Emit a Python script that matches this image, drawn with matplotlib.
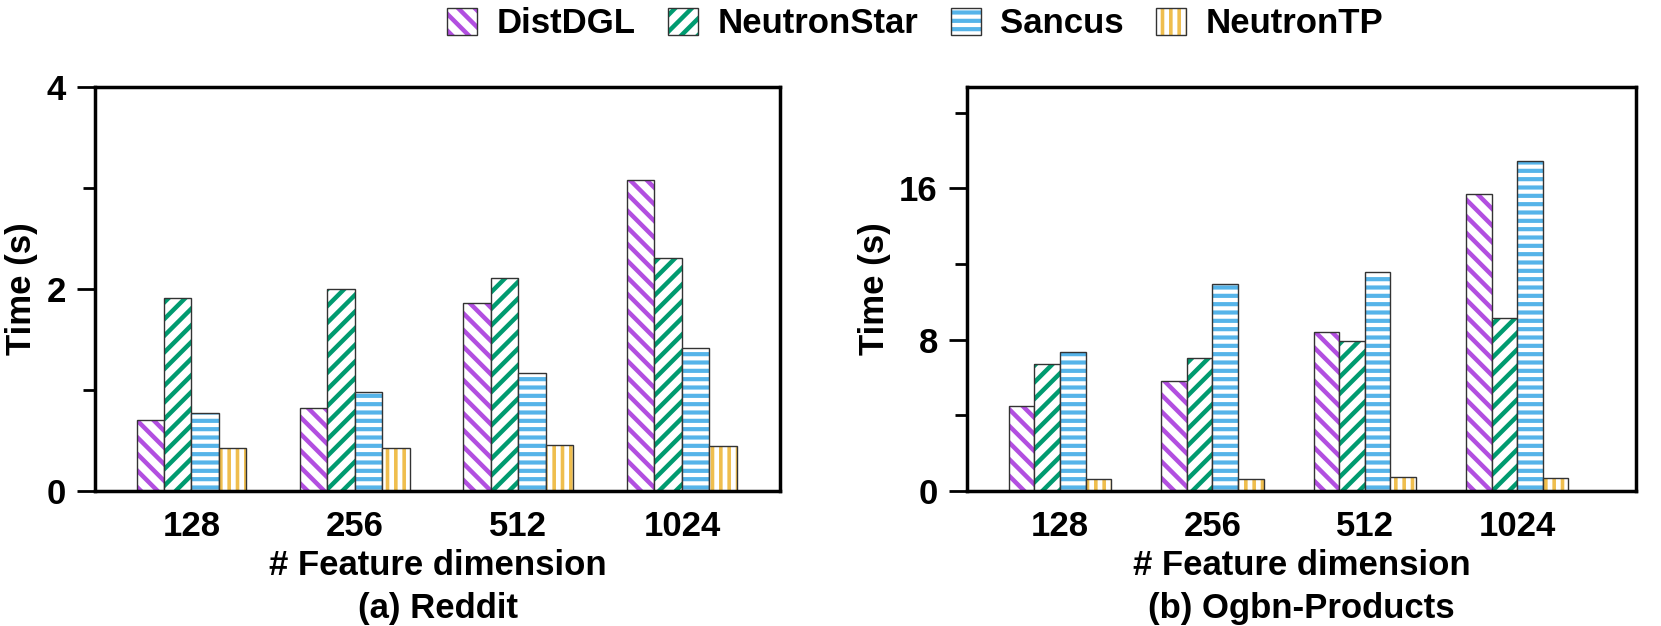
import matplotlib
matplotlib.use("Agg")
import matplotlib.pyplot as plt
import numpy as np
from matplotlib.patches import Patch
from matplotlib.ticker import MultipleLocator

plt.rcParams['font.family'] = ['Liberation Sans', 'DejaVu Sans']
plt.rcParams['font.weight'] = 'bold'
plt.rcParams['axes.labelweight'] = 'bold'
plt.rcParams['font.size'] = 25

dims = ["128", "256", "512", "1024"]
methods = ["DistDGL", "NeutronStar", "Sancus", "NeutronTP"]

# (a) Reddit
reddit_distdgl = [0.70, 0.82, 1.86, 3.08]
reddit_neutronstar = [1.91, 2.00, 2.11, 2.31]
reddit_sancus = [0.77, 0.98, 1.17, 1.42]
reddit_neutrontp = [0.43, 0.43, 0.46, 0.45]

# (b) Ogbn-Products
products_distdgl = [4.47, 5.79, 8.42, 15.68]
products_neutronstar = [6.72, 7.02, 7.92, 9.16]
products_sancus = [7.34, 10.92, 11.55, 17.46]
products_neutrontp = [0.65, 0.65, 0.74, 0.68]

colors = ["#b24fe0", "#009b70", "#56b4e9", "#efbe4e"]
hatches = ["\\\\", "//", "--", "||"]
hatch_lw = [3.2, 3.2, 3.0, 2.6]

fig = plt.figure(figsize=(16.61, 6.26), dpi=100)
ax1 = fig.add_axes([95 / 1661, 1 - 491 / 626, 685 / 1661, 404 / 626])
ax2 = fig.add_axes([967 / 1661, 1 - 491 / 626, 669 / 1661, 404 / 626])

width = 0.168
x = np.arange(len(dims))


def set_hlw(p, lw):
    if hasattr(p, 'set_hatch_linewidth'):
        p.set_hatch_linewidth(lw)


def draw(ax, series):
    for i, vals in enumerate(series):
        pos = x + (i - 1.5) * width
        with plt.rc_context({'hatch.linewidth': hatch_lw[i]}):
            bars = ax.bar(pos, vals, width, color='white', edgecolor=colors[i],
                          hatch=hatches[i], linewidth=0)
            for b in bars:
                set_hlw(b, hatch_lw[i])
        ax.bar(pos, vals, width, fill=False, edgecolor='#333333', linewidth=1.0)
    ax.set_xticks(x)
    ax.set_xticklabels(dims)
    ax.tick_params(axis='x', length=0, pad=14)
    ax.tick_params(axis='y', which='major', length=13, width=2, pad=8)
    ax.tick_params(axis='y', which='minor', length=9, width=2)
    for s in ax.spines.values():
        s.set_linewidth(2.5)
    ax.set_ylabel("Time (s)", labelpad=6)
    ax.set_xlabel("# Feature dimension", labelpad=4)


draw(ax1, [reddit_distdgl, reddit_neutronstar, reddit_sancus, reddit_neutrontp])
ax1.set_xlim(-0.59, 3.60)
ax1.set_ylim(0, 4)
ax1.yaxis.set_major_locator(MultipleLocator(2))
ax1.yaxis.set_minor_locator(MultipleLocator(1))
ax1.text(0.5, -0.29, "(a) Reddit", transform=ax1.transAxes, ha='center', va='center')

draw(ax2, [products_distdgl, products_neutronstar, products_sancus, products_neutrontp])
ax2.set_xlim(-0.61, 3.78)
ax2.set_ylim(0, 21.35)
ax2.yaxis.set_major_locator(MultipleLocator(8))
ax2.yaxis.set_minor_locator(MultipleLocator(4))
ax2.text(0.5, -0.29, "(b) Ogbn-Products", transform=ax2.transAxes, ha='center', va='center')

# legend: coloured hatch with a dark outline on top
handles = []
for i in range(4):
    fillp = Patch(facecolor='white', edgecolor=colors[i], hatch=hatches[i], linewidth=0)
    outline = Patch(fill=False, edgecolor='#333333', linewidth=1.0)
    handles.append((fillp, outline))
leg = fig.legend(handles, methods, loc='center', bbox_to_anchor=(0.551, 0.962), ncol=4,
                 frameon=False, handlelength=0.86, handleheight=0.83,
                 handletextpad=0.55, columnspacing=0.95, borderaxespad=0)
for p in leg.get_patches():
    h = p.get_hatch()
    if h in hatches:
        set_hlw(p, hatch_lw[hatches.index(h)])

fig.savefig("out.png", dpi=100)
